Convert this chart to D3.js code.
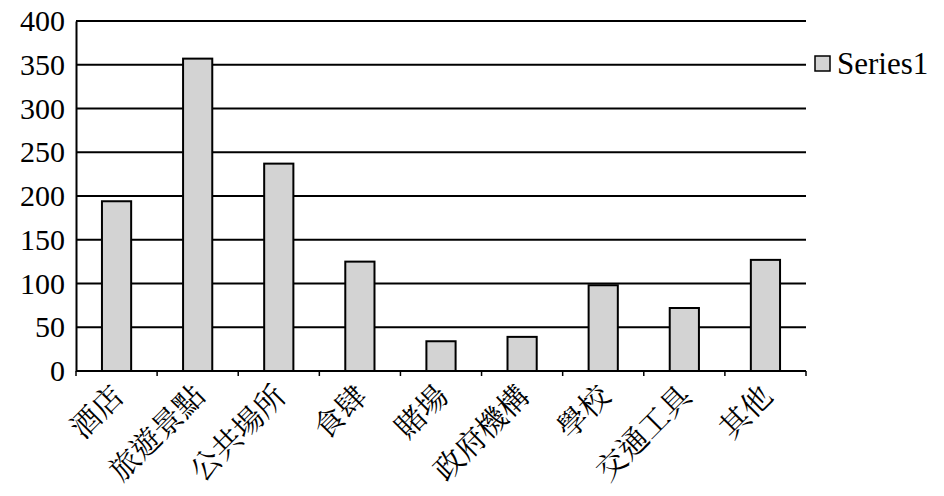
<!DOCTYPE html>
<html>
<head>
<meta charset="utf-8">
<script src="https://cdn.jsdelivr.net/npm/d3@7"></script>
<style>
  body { margin: 0; background: #fff; }
  text { fill: #000; }
</style>
</head>
<body>
<script>
var categories = ["酒店", "旅遊景點", "公共場所", "食肆", "賭場", "政府機構", "學校", "交通工具", "其他"];
var values = [194, 357, 237, 125, 34, 39, 98, 72, 127];
var yTicks = [0, 50, 100, 150, 200, 250, 300, 350, 400];
var seriesName = "Series1";

var width = 944, height = 496;
var plotLeft = 76, plotRight = 806, plotTop = 21, plotBottom = 371;
var serif = "Liberation Serif";
var cjkSerif = "Noto Serif CJK TC";

var svg = d3.select("body").append("svg")
    .attr("width", width)
    .attr("height", height);

var x = d3.scaleBand()
    .domain(categories)
    .range([plotLeft, plotRight])
    .paddingInner(0.64)
    .paddingOuter(0.32);

var y = d3.scaleLinear()
    .domain([0, 400])
    .range([plotBottom, plotTop]);

// gridlines
svg.selectAll(".grid")
    .data(yTicks)
    .enter().append("line")
    .attr("x1", plotLeft)
    .attr("x2", plotRight)
    .attr("y1", function(d) { return y(d); })
    .attr("y2", function(d) { return y(d); })
    .attr("stroke", "#000")
    .attr("stroke-width", 2);

// y axis labels
svg.append("g")
    .attr("transform", "translate(" + plotLeft + ",0)")
    .call(d3.axisLeft(y).tickValues(yTicks).tickSize(0).tickPadding(11))
    .call(function(g) {
        g.attr("font-family", serif).attr("font-size", 30);
        g.select(".domain").attr("stroke", "#000").attr("stroke-width", 2);
        g.selectAll("text").attr("fill", "#000");
    });

// bars
svg.selectAll(".bar")
    .data(values)
    .enter().append("rect")
    .attr("x", function(d, i) { return x(categories[i]); })
    .attr("y", function(d) { return y(d); })
    .attr("width", x.bandwidth())
    .attr("height", function(d) { return y(0) - y(d); })
    .attr("fill", "#d3d3d3")
    .attr("stroke", "#000")
    .attr("stroke-width", 2);

// x axis baseline and ticks between categories
var boundaries = d3.range(categories.length + 1).map(function(i) {
    return plotLeft + i * (plotRight - plotLeft) / categories.length;
});
svg.append("line")
    .attr("x1", plotLeft).attr("x2", plotRight)
    .attr("y1", plotBottom).attr("y2", plotBottom)
    .attr("stroke", "#000").attr("stroke-width", 2);
svg.selectAll(".xtick")
    .data(boundaries)
    .enter().append("line")
    .attr("x1", function(d) { return d; })
    .attr("x2", function(d) { return d; })
    .attr("y1", plotBottom)
    .attr("y2", plotBottom + 5)
    .attr("stroke", "#000").attr("stroke-width", 1.5);

// category labels, rotated
svg.selectAll(".xlabel")
    .data(categories)
    .enter().append("text")
    .attr("transform", function(d) {
        return "translate(" + (x(d) + x.bandwidth() / 2 - 8) + "," + (plotBottom + 10) + ") rotate(-45)";
    })
    .attr("text-anchor", "end")
    .attr("dy", "0.8em")
    .attr("font-family", cjkSerif)
    .attr("font-size", 30)
    .text(function(d) { return d; });

// legend
var legend = svg.append("g").attr("transform", "translate(815,56)");
legend.append("rect")
    .attr("width", 15).attr("height", 15)
    .attr("fill", "#d3d3d3")
    .attr("stroke", "#000").attr("stroke-width", 1.5);
legend.append("text")
    .attr("x", 22).attr("y", 18)
    .attr("font-family", serif)
    .attr("font-size", 31)
    .text(seriesName);
</script>
</body>
</html>
